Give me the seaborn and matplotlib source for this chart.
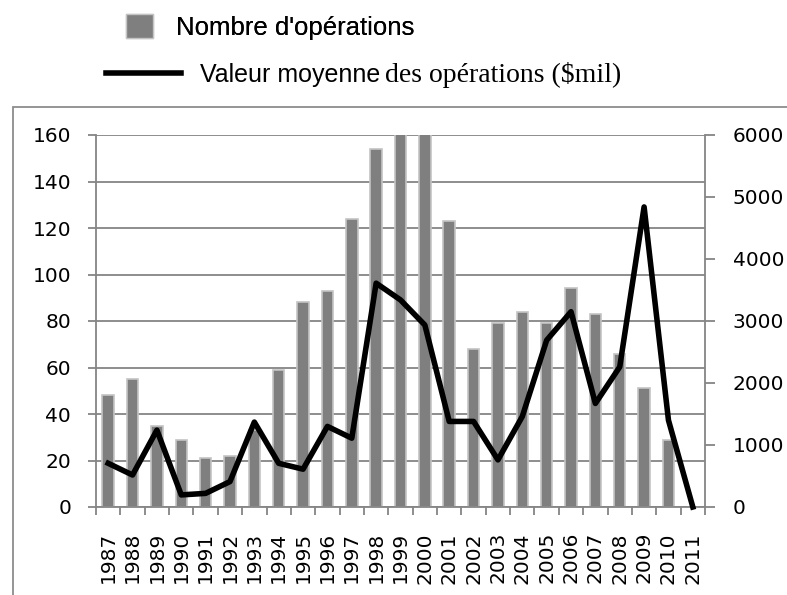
import numpy as np
import pandas as pd
import seaborn as sns
import matplotlib.pyplot as plt
from matplotlib.patches import Patch, Rectangle
from matplotlib.lines import Line2D
from matplotlib.ticker import FixedLocator, NullFormatter

# data
years = [str(y) for y in range(1987, 2012)]
nb_operations = [48, 55, 35, 29, 21, 22, 33, 59, 88, 93, 124, 154, 168, 172,
                 123, 68, 79, 84, 79, 94, 83, 66, 51, 29, 0]
valeur_moyenne = [705, 516, 1240, 195, 220, 410, 1370, 705, 610, 1300, 1110,
                  3610, 3340, 2935, 1380, 1380, 760, 1460, 2690, 3150, 1670,
                  2260, 4840, 1400, 0]
left_ticks = [0, 20, 40, 60, 80, 100, 120, 140, 160]
right_ticks = [0, 1000, 2000, 3000, 4000, 5000, 6000]

df = pd.DataFrame({'annee': years, 'nb': nb_operations,
                   'valeur': valeur_moyenne, 'pos': np.arange(len(years))})

grey = '#858585'
plt.rcParams['font.family'] = ['DejaVu Sans']

fig = plt.figure(figsize=(7.87, 5.95), dpi=100)
ax = fig.add_axes([96 / 787, 88 / 595, 609 / 787, 372 / 595])

sns.barplot(data=df, x='annee', y='nb', ax=ax, color='#7f7f7f', width=0.47,
            edgecolor='#c4c4c4', linewidth=1.2, saturation=1)
ax.set_ylim(0, 160)
ax.set_xlim(-0.5, len(years) - 0.5)
ax.set_yticks(left_ticks)
ax.set_xlabel('')
ax.set_ylabel('')
ax.grid(axis='y', color=grey, linewidth=1.3)
ax.set_axisbelow(True)
for s in ['top', 'right']:
    ax.spines[s].set_visible(False)
for s in ['left', 'bottom']:
    ax.spines[s].set_color(grey)
    ax.spines[s].set_linewidth(1.3)

# year labels at bar centres, tick marks between bars
ax.set_xticks(range(len(years)))
ax.set_xticklabels(years, rotation=90)
ax.tick_params(axis='x', which='major', length=0, pad=18, labelsize=14.5)
ax.xaxis.set_minor_locator(FixedLocator(np.arange(-0.5, len(years), 1)))
ax.xaxis.set_minor_formatter(NullFormatter())
ax.tick_params(axis='x', which='minor', length=6, width=1.3, color=grey)
ax.tick_params(axis='y', length=6, width=1.3, color=grey, pad=12, labelsize=14.5)

ax2 = ax.twinx()
sns.lineplot(data=df, x='pos', y='valeur', ax=ax2, color='black',
             linewidth=4.0, clip_on=False)
ax2.set_ylim(0, 6000)
ax2.set_yticks(right_ticks)
ax2.set_ylabel('')
ax2.set_xlabel('')
for s in ['top', 'left', 'bottom']:
    ax2.spines[s].set_visible(False)
ax2.spines['right'].set_color(grey)
ax2.spines['right'].set_linewidth(1.3)
ax2.tick_params(axis='y', length=7, width=1.3, color=grey, pad=13, labelsize=14.5)
ax2.set_xlim(-0.5, len(years) - 0.5)

# legend, two rows above the chart
leg1 = fig.legend(handles=[Patch(facecolor='#7f7f7f', edgecolor='#c4c4c4')],
                  labels=["Nombre d'opérations"], loc='center left',
                  bbox_to_anchor=(126 / 787, 1 - 27 / 595), frameon=False,
                  borderpad=0, borderaxespad=0, handlelength=1.05,
                  handleheight=1.05, handletextpad=0.9,
                  prop={'family': 'Liberation Sans', 'size': 18.5})
leg2 = fig.legend(handles=[Line2D([], [], color='black', linewidth=4.0)],
                  labels=['Valeur moyenne'], loc='center left',
                  bbox_to_anchor=(106 / 787, 1 - 75 / 595), frameon=False,
                  borderpad=0, borderaxespad=0, handlelength=3.0,
                  handletextpad=0.75,
                  prop={'family': 'Liberation Sans', 'size': 18})
fig.add_artist(leg1)

fig.canvas.draw()
bb = leg2.get_texts()[0].get_window_extent()
fig.text(bb.x1 + 5, (bb.y0 + bb.y1) / 2, 'des opérations ($mil)',
         transform=None, ha='left', va='center',
         family='Liberation Serif', fontsize=20)

# outer frame, cut by the right and bottom edges
fig.add_artist(Rectangle((13 / 787, -0.1), 1.2, (595 - 107) / 595 + 0.1,
                         transform=fig.transFigure, fill=False,
                         edgecolor='#8c8c8c', linewidth=1.3))

fig.savefig('out.png', dpi=100)
